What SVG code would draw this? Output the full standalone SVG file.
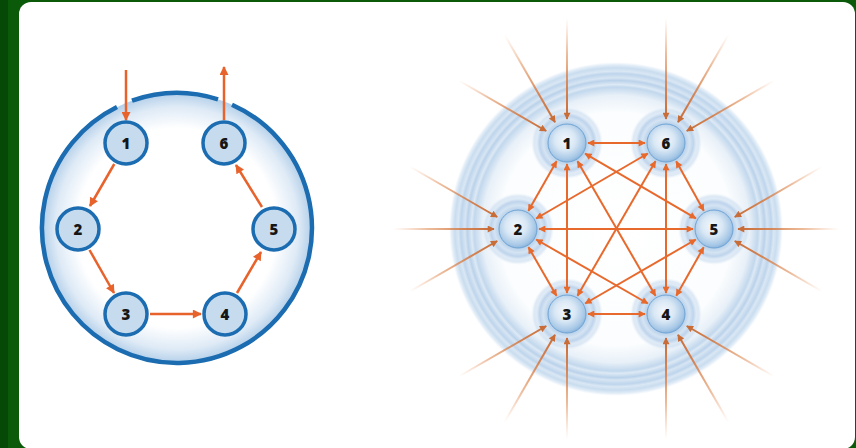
<svg xmlns="http://www.w3.org/2000/svg" width="856" height="448" viewBox="0 0 856 448">
<defs>
<style>
.lbl{font-family:"Open Sans","DejaVu Sans",sans-serif;font-weight:800;font-size:15px;fill:#161616;text-anchor:middle}
.ln{fill:#c6dbee;stroke:#1b6cb0;stroke-width:3.5}
.le{stroke:#e8622c;stroke-width:2.5;fill:none;marker-end:url(#ahL)}
.re{stroke:#e8692c;stroke-width:2;fill:none;marker-start:url(#ahR);marker-end:url(#ahR)}
.oe{stroke:url(#fade);stroke-width:2;fill:none;marker-end:url(#ahO)}
.sph{fill:url(#sphG);stroke:#6fa3d4;stroke-width:1}
.halo{fill:url(#haloG)}
</style>
<marker id="ahL" viewBox="0 0 10 10" refX="9" refY="5" markerWidth="10" markerHeight="9" markerUnits="userSpaceOnUse" orient="auto"><path d="M0,0 L10,5 L0,10 z" fill="#e8622c"/></marker>
<marker id="ahR" viewBox="0 0 10 10" refX="9" refY="5" markerWidth="8" markerHeight="7" markerUnits="userSpaceOnUse" orient="auto-start-reverse"><path d="M0,0 L10,5 L0,10 z" fill="#e8692c"/></marker>
<marker id="ahO" viewBox="0 0 10 10" refX="9" refY="5" markerWidth="8" markerHeight="7" markerUnits="userSpaceOnUse" orient="auto"><path d="M0,0 L10,5 L0,10 z" fill="#c96d38"/></marker>
<linearGradient id="fade" gradientUnits="userSpaceOnUse" x1="125" y1="0" x2="24" y2="0">
<stop offset="0" stop-color="#f0a070" stop-opacity="0"/>
<stop offset="0.35" stop-color="#e0905a" stop-opacity="0.6"/>
<stop offset="0.7" stop-color="#d47a44" stop-opacity="0.9"/>
<stop offset="1" stop-color="#c86c36" stop-opacity="1"/>
</linearGradient>
<radialGradient id="bigL" cx="177" cy="228" r="135" gradientUnits="userSpaceOnUse">
<stop offset="0" stop-color="#ffffff"/>
<stop offset="0.74" stop-color="#ffffff"/>
<stop offset="0.9" stop-color="#deeaf6"/>
<stop offset="1" stop-color="#b3cfe9"/>
</radialGradient>
<radialGradient id="bigR" cx="616" cy="229" r="167" gradientUnits="userSpaceOnUse">
<stop offset="0" stop-color="#ffffff"/>
<stop offset="0.7" stop-color="#fbfdfe"/>
<stop offset="0.8" stop-color="#e8f0f8"/>
<stop offset="0.85" stop-color="#c2d8ed"/>
<stop offset="0.865" stop-color="#dde9f5"/>
<stop offset="0.89" stop-color="#bad2ea"/>
<stop offset="0.905" stop-color="#d7e5f3"/>
<stop offset="0.93" stop-color="#bed5ec"/>
<stop offset="0.945" stop-color="#dae7f4"/>
<stop offset="0.965" stop-color="#c9ddef"/>
<stop offset="0.985" stop-color="#e4eef8"/>
<stop offset="1" stop-color="#eef4fa" stop-opacity="0"/>
</radialGradient>
<radialGradient id="haloG" cx="0.5" cy="0.5" r="0.5">
<stop offset="0" stop-color="#bcd4ec"/>
<stop offset="0.55" stop-color="#bcd4ec"/>
<stop offset="0.66" stop-color="#d5e4f3"/>
<stop offset="0.76" stop-color="#b8d0ea" stop-opacity="0.9"/>
<stop offset="0.84" stop-color="#d8e6f4" stop-opacity="0.8"/>
<stop offset="0.92" stop-color="#cadcef" stop-opacity="0.6"/>
<stop offset="1" stop-color="#e6eff8" stop-opacity="0"/>
</radialGradient>
<radialGradient id="sphG" cx="0.45" cy="0.42" r="0.6">
<stop offset="0" stop-color="#f2f7fc"/>
<stop offset="0.45" stop-color="#dae8f5"/>
<stop offset="0.85" stop-color="#a6c7e6"/>
<stop offset="1" stop-color="#86b2dc"/>
</radialGradient>
</defs>

<rect x="0" y="0" width="856" height="448" fill="#0a5a0a"/>
<rect x="0" y="0" width="8" height="448" fill="#064806"/>
<rect x="19" y="2" width="836" height="447" rx="12" fill="#ffffff"/>

<g id="ring-left">
<circle cx="177" cy="228" r="135" fill="url(#bigL)"/>
<path d="M132,100.7 A135,135 0 0 1 218,99.4 M232,104.7 A135,135 0 1 1 117,107" fill="none" stroke="#1b6cb0" stroke-width="4.5"/>
</g>

<g id="ring-right">
<circle cx="616" cy="229" r="167" fill="url(#bigR)"/>
</g>
<g id="halos">
<circle class="halo" cx="567" cy="143" r="36"/>
<circle class="halo" cx="666" cy="143" r="36"/>
<circle class="halo" cx="518" cy="229" r="36"/>
<circle class="halo" cx="714" cy="229" r="36"/>
<circle class="halo" cx="567" cy="314" r="36"/>
<circle class="halo" cx="666" cy="314" r="36"/>
</g>

<g id="connectors">
<line class="le" x1="126" y1="70" x2="126" y2="120"/>
<line class="le" x1="224" y1="120" x2="224" y2="67"/>
<line class="le" x1="114.3" y1="164" x2="90" y2="206"/>
<line class="le" x1="89.5" y1="250" x2="114" y2="293"/>
<line class="le" x1="150" y1="314" x2="201" y2="314"/>
<line class="le" x1="237" y1="293" x2="261" y2="252"/>
<line class="le" x1="262" y1="207" x2="236" y2="165"/>
<line class="re" x1="588" y1="143" x2="645" y2="143"/>
<line class="re" x1="556.6" y1="161.2" x2="528.4" y2="210.8"/>
<line class="re" x1="567" y1="164" x2="567" y2="293"/>
<line class="re" x1="577.5" y1="161.2" x2="655.5" y2="295.8"/>
<line class="re" x1="585.1" y1="153.6" x2="695.9" y2="218.4"/>
<line class="re" x1="647.8" y1="153.5" x2="536.2" y2="218.5"/>
<line class="re" x1="655.5" y1="161.2" x2="577.5" y2="295.8"/>
<line class="re" x1="666" y1="164" x2="666" y2="293"/>
<line class="re" x1="676.2" y1="161.3" x2="703.8" y2="210.7"/>
<line class="re" x1="539" y1="229" x2="693" y2="229"/>
<line class="re" x1="528.5" y1="247.2" x2="556.5" y2="295.8"/>
<line class="re" x1="536.2" y1="239.5" x2="647.8" y2="303.5"/>
<line class="re" x1="588" y1="314" x2="645" y2="314"/>
<line class="re" x1="585.2" y1="303.5" x2="695.8" y2="239.5"/>
<line class="re" x1="676.3" y1="295.7" x2="703.7" y2="247.3"/>
<g transform="translate(567,143)"><line class="oe" x1="125" y1="0" x2="24" y2="0" transform="rotate(-90)"/><line class="oe" x1="125" y1="0" x2="24" y2="0" transform="rotate(-120)"/><line class="oe" x1="125" y1="0" x2="24" y2="0" transform="rotate(-150)"/></g>
<g transform="translate(666,143)"><line class="oe" x1="125" y1="0" x2="24" y2="0" transform="rotate(-90)"/><line class="oe" x1="125" y1="0" x2="24" y2="0" transform="rotate(-60)"/><line class="oe" x1="125" y1="0" x2="24" y2="0" transform="rotate(-30)"/></g>
<g transform="translate(714,229)"><line class="oe" x1="125" y1="0" x2="24" y2="0" transform="rotate(-30)"/><line class="oe" x1="125" y1="0" x2="24" y2="0" transform="rotate(0)"/><line class="oe" x1="125" y1="0" x2="24" y2="0" transform="rotate(30)"/></g>
<g transform="translate(666,314)"><line class="oe" x1="125" y1="0" x2="24" y2="0" transform="rotate(30)"/><line class="oe" x1="125" y1="0" x2="24" y2="0" transform="rotate(60)"/><line class="oe" x1="125" y1="0" x2="24" y2="0" transform="rotate(90)"/></g>
<g transform="translate(567,314)"><line class="oe" x1="125" y1="0" x2="24" y2="0" transform="rotate(90)"/><line class="oe" x1="125" y1="0" x2="24" y2="0" transform="rotate(120)"/><line class="oe" x1="125" y1="0" x2="24" y2="0" transform="rotate(150)"/></g>
<g transform="translate(518,229)"><line class="oe" x1="125" y1="0" x2="24" y2="0" transform="rotate(150)"/><line class="oe" x1="125" y1="0" x2="24" y2="0" transform="rotate(180)"/><line class="oe" x1="125" y1="0" x2="24" y2="0" transform="rotate(210)"/></g>
</g>

<g id="L1"><circle class="ln" cx="126" cy="143" r="21"/><text class="lbl" x="126" y="148.5">1</text></g>
<g id="L2"><circle class="ln" cx="78" cy="229" r="21"/><text class="lbl" x="78" y="234.5">2</text></g>
<g id="L3"><circle class="ln" cx="126" cy="314" r="21"/><text class="lbl" x="126" y="319.5">3</text></g>
<g id="L4"><circle class="ln" cx="225" cy="314" r="21"/><text class="lbl" x="225" y="319.5">4</text></g>
<g id="L5"><circle class="ln" cx="274" cy="229" r="21"/><text class="lbl" x="274" y="234.5">5</text></g>
<g id="L6"><circle class="ln" cx="224" cy="143" r="21"/><text class="lbl" x="224" y="148.5">6</text></g>

<g id="R1"><circle class="sph" cx="567" cy="143" r="19"/><text class="lbl" x="567" y="148.5">1</text></g>
<g id="R2"><circle class="sph" cx="518" cy="229" r="19"/><text class="lbl" x="518" y="234.5">2</text></g>
<g id="R3"><circle class="sph" cx="567" cy="314" r="19"/><text class="lbl" x="567" y="319.5">3</text></g>
<g id="R4"><circle class="sph" cx="666" cy="314" r="19"/><text class="lbl" x="666" y="319.5">4</text></g>
<g id="R5"><circle class="sph" cx="714" cy="229" r="19"/><text class="lbl" x="714" y="234.5">5</text></g>
<g id="R6"><circle class="sph" cx="666" cy="143" r="19"/><text class="lbl" x="666" y="148.5">6</text></g>
</svg>
